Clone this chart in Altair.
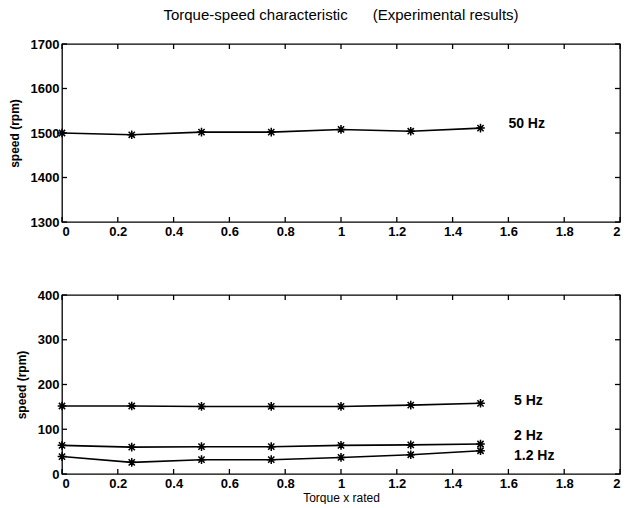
import altair as alt
import pandas as pd

# ---- data ----
torque = [0, 0.25, 0.5, 0.75, 1.0, 1.25, 1.5]
speed_50hz = [1500, 1496, 1502, 1502, 1508, 1504, 1511]
speed_5hz = [152, 152, 151, 151, 151, 154, 158]
speed_2hz = [64, 60, 61, 61, 64, 65, 67]
speed_1_2hz = [39, 26, 32, 32, 37, 43, 52]

x_ticks = [0, 0.2, 0.4, 0.6, 0.8, 1.0, 1.2, 1.4, 1.6, 1.8, 2.0]
top_y_ticks = [1300, 1400, 1500, 1600, 1700]
bottom_y_ticks = [0, 100, 200, 300, 400]

top_labels = ["50 Hz"]
top_label_x = [1.6]
top_label_y = [1521]
bottom_labels = ["5 Hz", "2 Hz", "1.2 Hz"]
bottom_label_x = [1.62, 1.62, 1.62]
bottom_label_y = [163, 84, 40]

FONT = "Liberation Sans"
ASTERISK = "M-1,0L1,0M0,-1L0,1M-0.72,-0.72L0.72,0.72M-0.72,0.72L0.72,-0.72"
TICK = 5


def long_df(series):
    rows = []
    for name, vals in series.items():
        for t, v in zip(torque, vals):
            rows.append({"torque": t, "speed": v, "freq": name})
    return pd.DataFrame(rows)


def panel(df, ydomain, yticks, lab_df, w, h, xtitle=None, title=None):
    xs = alt.Scale(domain=[0, 2], nice=False, zero=False)
    ys = alt.Scale(domain=ydomain, nice=False, zero=False)

    xkw = dict(values=x_ticks, format="~g", orient="bottom", ticks=False,
               domain=False, grid=False, labelPadding=3)
    if xtitle:
        xkw.update(title=xtitle, titlePadding=2, titleFontWeight="normal",
                   titleFontSize=12)
    else:
        xkw.update(title="")
    main_x = alt.Axis(**xkw)
    main_y = alt.Axis(values=yticks, format="d", orient="left", ticks=False,
                      domain=False, grid=False, labelPadding=3,
                      title="speed (rpm)", titlePadding=9,
                      titleFontSize=12, titleFontWeight="bold")

    line = alt.Chart(df).mark_line(color="black", strokeWidth=1.6).encode(
        x=alt.X("torque:Q", scale=xs, axis=main_x),
        y=alt.Y("speed:Q", scale=ys, axis=main_y),
        detail="freq:N",
    )
    pts = alt.Chart(df).mark_point(
        shape=ASTERISK, filled=False, color="black", strokeWidth=1.5,
        size=75, opacity=1
    ).encode(
        x=alt.X("torque:Q"),
        y=alt.Y("speed:Q"),
    )
    txt = alt.Chart(lab_df).mark_text(
        align="left", baseline="middle", font=FONT, fontSize=14,
        fontWeight="bold", color="black"
    ).encode(
        x=alt.X("x:Q"),
        y=alt.Y("y:Q"),
        text="label:N",
    )
    xt = pd.DataFrame({"t": x_ticks})
    yt = pd.DataFrame({"t": yticks})
    rule_kw = dict(color="black", strokeWidth=1.3, opacity=1)
    tick_bottom = alt.Chart(xt).mark_rule(**rule_kw).encode(
        x=alt.X("t:Q"), y=alt.value(h), y2=alt.value(h - TICK))
    tick_top = alt.Chart(xt).mark_rule(**rule_kw).encode(
        x=alt.X("t:Q"), y=alt.value(0), y2=alt.value(TICK))
    tick_left = alt.Chart(yt).mark_rule(**rule_kw).encode(
        y=alt.Y("t:Q"), x=alt.value(0), x2=alt.value(TICK))
    tick_right = alt.Chart(yt).mark_rule(**rule_kw).encode(
        y=alt.Y("t:Q"), x=alt.value(w - TICK), x2=alt.value(w))

    layer = alt.layer(line, pts, txt, tick_bottom, tick_top, tick_left, tick_right)
    props = dict(width=w, height=h)
    if title:
        props["title"] = alt.TitleParams(
            title, fontSize=15, font=FONT, fontWeight="normal",
            anchor="middle", offset=15, color="black"
        )
    return layer.properties(**props)


top_df = long_df({"50 Hz": speed_50hz})
bot_df = long_df({"5 Hz": speed_5hz, "2 Hz": speed_2hz, "1.2 Hz": speed_1_2hz})
top_lab = pd.DataFrame({"label": top_labels, "x": top_label_x, "y": top_label_y})
bot_lab = pd.DataFrame({"label": bottom_labels, "x": bottom_label_x, "y": bottom_label_y})

title_text = "Torque-speed characteristic" + "\u00a0" * 6 + "(Experimental results)"

top = panel(top_df, [1300, 1700], top_y_ticks, top_lab, 558, 178, title=title_text)
bottom = panel(bot_df, [0, 400], bottom_y_ticks, bot_lab, 558, 179,
               xtitle="Torque x rated")

chart = alt.vconcat(top, bottom, spacing=49).properties(
    padding={"left": 7, "right": 2, "top": 7, "bottom": 0},
    background="white",
).configure_view(
    stroke="black", strokeWidth=1.3
).configure_axis(
    labelFont=FONT, titleFont=FONT, labelFontSize=13, labelFontWeight="bold",
    labelColor="black", titleColor="black"
).configure_title(font=FONT)

chart.save("out.html", embed_options={"renderer": "svg", "actions": False})
